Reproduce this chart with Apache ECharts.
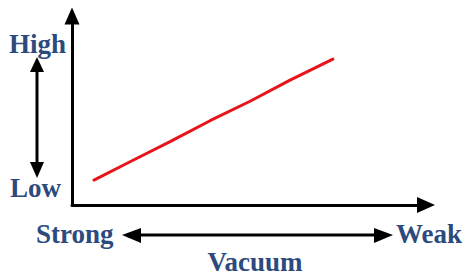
<!DOCTYPE html>
<html>
<head>
<meta charset="utf-8">
<script src="https://cdn.jsdelivr.net/npm/echarts@6/dist/echarts.min.js"></script>
<style>
html,body{margin:0;padding:0;background:#fff;}
#chart{width:467px;height:277px;}
</style>
</head>
<body>
<div id="chart"></div>
<script>
// Data (vacuum strength on x: 0 = strong, 100 = weak; y: 0 = low, 100 = high)
const xVals = [6.2, 16.4, 27.7, 39.0, 50.3, 61.6, 73.7];
const yVals = [13.2, 22.9, 33.5, 44.6, 54.9, 66.1, 77.2];
const yTopLabel = 'High';
const yBottomLabel = 'Low';
const xLeftLabel = 'Strong';
const xRightLabel = 'Weak';
const xTitle = 'Vacuum';

const lineData = xVals.map((x, i) => [x, yVals[i]]);
const textColor = '#2d4a7e';
const fontFam = '"Liberation Serif", "Times New Roman", serif';

function label(text, x, y, align) {
  return {
    type: 'text', x: x, y: y,
    style: { text: text, fill: textColor, font: 'bold 27px ' + fontFam, textAlign: align || 'left', textVerticalAlign: 'top' }
  };
}

const chart = echarts.init(document.getElementById('chart'), null, { renderer: 'svg' });
chart.setOption({
  backgroundColor: '#ffffff',
  animation: false,
  grid: { left: 72, right: 41, top: 16, bottom: 72 },
  xAxis: {
    type: 'value', min: 0, max: 100,
    axisLine: { show: true, symbol: ['none', 'triangle'], symbolSize: [16, 18], lineStyle: { color: '#000', width: 3 } },
    axisTick: { show: false }, axisLabel: { show: false }, splitLine: { show: false }
  },
  yAxis: {
    type: 'value', min: 0, max: 100,
    axisLine: { show: true, symbol: ['none', 'triangle'], symbolSize: [15, 17], lineStyle: { color: '#000', width: 3 } },
    axisTick: { show: false }, axisLabel: { show: false }, splitLine: { show: false }
  },
  series: [{
    type: 'line',
    data: lineData,
    symbol: 'none',
    smooth: false,
    lineStyle: { color: '#e8141b', width: 3, cap: 'round' }
  }],
  graphic: [
    label(yTopLabel, 9, 30),
    label(yBottomLabel, 10, 174),
    label(xLeftLabel, 36, 220),
    label(xRightLabel, 396, 220),
    label(xTitle, 255, 248, 'center'),
    // vertical double arrow
    { type: 'line', shape: { x1: 37, y1: 68, x2: 37, y2: 166 }, style: { stroke: '#000', lineWidth: 3 } },
    { type: 'polygon', shape: { points: [[37, 57], [30, 72], [44, 72]] }, style: { fill: '#000' } },
    { type: 'polygon', shape: { points: [[37, 178], [30, 162], [44, 162]] }, style: { fill: '#000' } },
    // horizontal double arrow
    { type: 'line', shape: { x1: 135, y1: 235, x2: 380, y2: 235 }, style: { stroke: '#000', lineWidth: 3 } },
    { type: 'polygon', shape: { points: [[122, 235], [141, 228], [141, 243]] }, style: { fill: '#000' } },
    { type: 'polygon', shape: { points: [[393, 235], [374, 228], [374, 243]] }, style: { fill: '#000' } }
  ]
});
</script>
</body>
</html>
